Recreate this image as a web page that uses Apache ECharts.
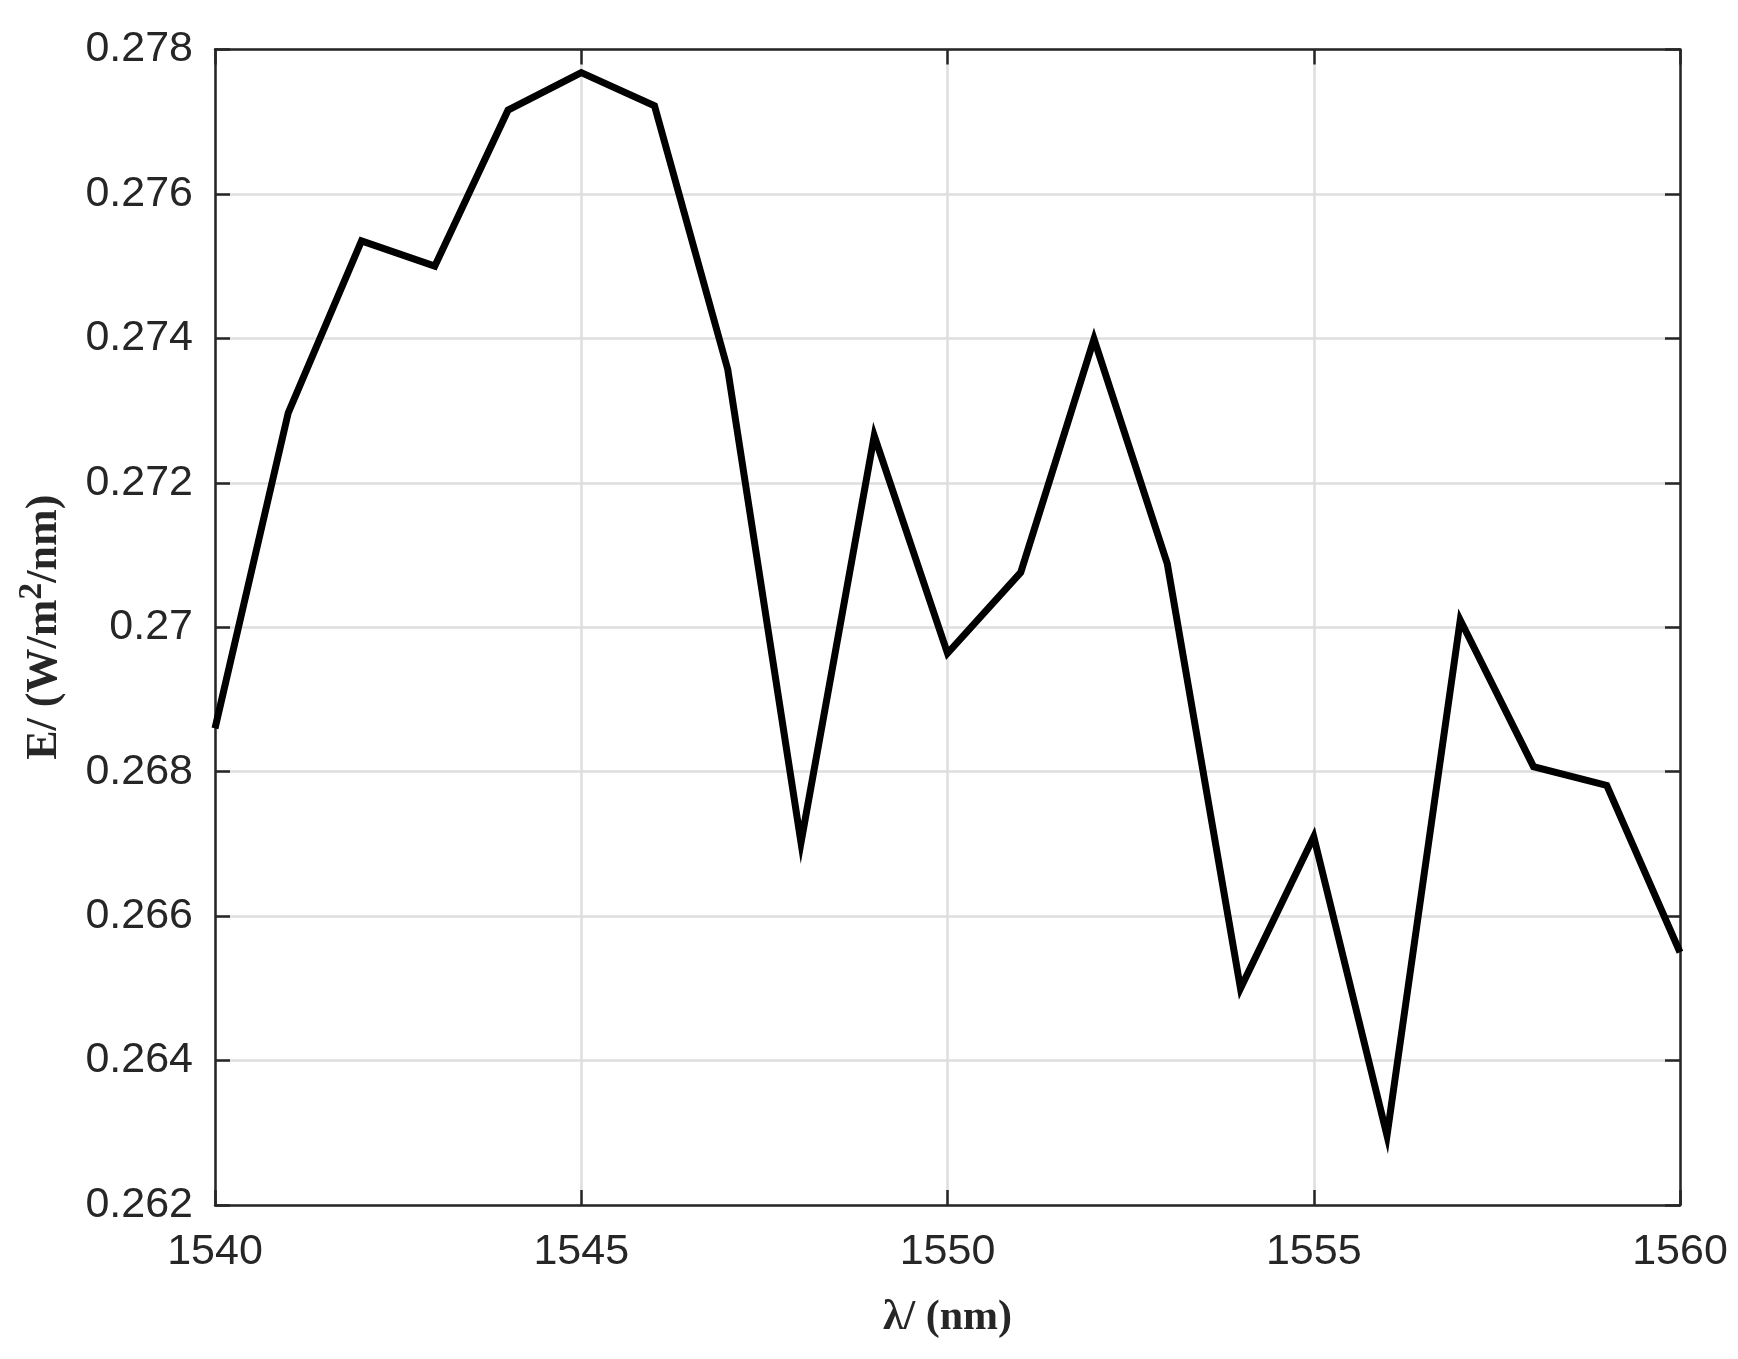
<!DOCTYPE html>
<html>
<head>
<meta charset="utf-8">
<script src="https://cdn.jsdelivr.net/npm/echarts@6/dist/echarts.min.js"></script>
<style>
html,body{margin:0;padding:0;background:#fff;}
#chart{width:1738px;height:1359px;}
</style>
</head>
<body>
<div id="chart"></div>
<script>
// Data
const wavelength = [1540,1541,1542,1543,1544,1545,1546,1547,1548,1549,1550,1551,1552,1553,1554,1555,1556,1557,1558,1559,1560];
const irradiance = [0.26860,0.27297,0.27535,0.27500,0.27716,0.27768,0.27722,0.27357,0.26702,0.27265,0.26964,0.27076,0.27399,0.27088,0.26500,0.26710,0.26296,0.27010,0.26807,0.26781,0.26550];
const xTicks = [1540,1545,1550,1555,1560];
const yTicks = [0.262,0.264,0.266,0.268,0.27,0.272,0.274,0.276,0.278];
const xName = 'λ/ (nm)';
const yNameParts = ['E/ (W/m','2','/nm)'];

const axisColor = '#262626';
const gridColor = '#dedede';
const sansFont = '"Liberation Sans", Arial, sans-serif';
const serifFont = '"Liberation Serif", "Times New Roman", serif';

const seriesData = wavelength.map((x, i) => [x, irradiance[i]]);

const chart = echarts.init(document.getElementById('chart'), null, {renderer: 'canvas'});
const axisLineStyle = {color: axisColor, width: 2.5};
const option = {
  animation: false,
  backgroundColor: '#ffffff',
  grid: {left: 215, right: 58, top: 49.5, bottom: 154, containLabel: false},
  xAxis: [
    {
      type: 'value', position: 'bottom',
      min: xTicks[0], max: xTicks[xTicks.length - 1], interval: xTicks[1] - xTicks[0],
      axisLine: {show: true, onZero: false, lineStyle: axisLineStyle},
      axisTick: {show: true, inside: true, length: 15, lineStyle: axisLineStyle},
      axisLabel: {show: true, fontSize: 43, color: axisColor, fontFamily: sansFont, margin: 26,
        formatter: v => String(v)},
      splitLine: {show: true, lineStyle: {color: gridColor, width: 2.5}},
      name: xName, nameLocation: 'middle', nameGap: 92,
      nameTextStyle: {fontFamily: serifFont, fontWeight: 'bold', fontSize: 42, color: axisColor}
    },
    {
      type: 'value', position: 'top',
      min: xTicks[0], max: xTicks[xTicks.length - 1], interval: xTicks[1] - xTicks[0],
      axisLine: {show: true, onZero: false, lineStyle: axisLineStyle},
      axisTick: {show: true, inside: true, length: 15, lineStyle: axisLineStyle},
      axisLabel: {show: false}, splitLine: {show: false}
    }
  ],
  yAxis: [
    {
      type: 'value', position: 'left',
      min: yTicks[0], max: yTicks[yTicks.length - 1], interval: 0.002,
      axisLine: {show: true, onZero: false, lineStyle: axisLineStyle},
      axisTick: {show: true, inside: true, length: 15, lineStyle: axisLineStyle},
      axisLabel: {show: true, fontSize: 43, color: axisColor, fontFamily: sansFont, margin: 22,
        formatter: v => String(parseFloat(v.toFixed(3)))},
      splitLine: {show: true, lineStyle: {color: gridColor, width: 2.5}},
      name: '{a|' + yNameParts[0] + '}{s|' + yNameParts[1] + '}{a|' + yNameParts[2] + '}',
      nameLocation: 'middle', nameGap: 140, nameRotate: 90,
      nameTextStyle: {
        color: axisColor,
        rich: {
          a: {fontFamily: serifFont, fontWeight: 'bold', fontSize: 44, lineHeight: 60, color: axisColor},
          s: {fontFamily: serifFont, fontWeight: 'bold', fontSize: 34, lineHeight: 20, verticalAlign: 'top', color: axisColor}
        }
      }
    },
    {
      type: 'value', position: 'right',
      min: yTicks[0], max: yTicks[yTicks.length - 1], interval: 0.002,
      axisLine: {show: true, onZero: false, lineStyle: axisLineStyle},
      axisTick: {show: true, inside: true, length: 15, lineStyle: axisLineStyle},
      axisLabel: {show: false}, splitLine: {show: false}
    }
  ],
  series: [{
    type: 'line',
    xAxisIndex: 0, yAxisIndex: 0,
    data: seriesData,
    showSymbol: false,
    symbol: 'none',
    clip: true,
    lineStyle: {color: '#000000', width: 7, join: 'miter', cap: 'butt'},
    z: 3
  }]
};
chart.setOption(option);
</script>
</body>
</html>
